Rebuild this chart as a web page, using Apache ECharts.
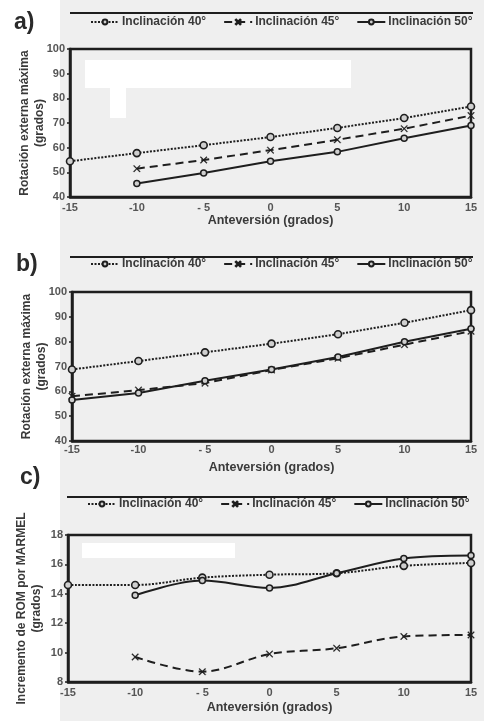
<!DOCTYPE html>
<html><head><meta charset="utf-8">
<script src="https://cdn.jsdelivr.net/npm/echarts@6/dist/echarts.min.js"></script>
<style>html,body{margin:0;padding:0;background:#fff}#c{width:484px;height:721px}</style>
</head><body><div id="c"></div>
<script>
const xCats = [-15, -10, -5, 0, 5, 10, 15];
const seriesNames = ['Inclinación 40°', 'Inclinación 45°', 'Inclinación 50°'];
// Panel a: Rotación externa máxima
const a40 = [54.5, 57.8, 61.0, 64.3, 68.0, 72.0, 76.7];
const a45 = [null, 51.5, 55.0, 59.0, 63.2, 67.7, 73.0];
const a50 = [null, 45.5, 49.7, 54.5, 58.3, 63.8, 69.0];
// Panel b: Rotación externa máxima
const b40 = [68.8, 72.2, 75.7, 79.2, 83.0, 87.6, 92.7];
const b45 = [58.0, 60.5, 63.3, 68.6, 73.3, 78.8, 84.2];
const b50 = [56.5, 59.3, 64.3, 68.8, 73.8, 80.0, 85.2];
// Panel c: Incremento de ROM por MARMEL
const c40 = [14.6, 14.6, 15.1, 15.3, 15.4, 15.9, 16.1];
const c45 = [null, 9.7, 8.7, 9.9, 10.3, 11.1, 11.2];
const c50 = [null, 13.9, 14.9, 14.4, 15.4, 16.4, 16.6];

const crossPath = 'path://M0,1L1,0L5,4L9,0L10,1L6,5L10,9L9,10L5,6L1,10L0,9L4,5Z';
const ink = '#1e1e1e';
const txt = '#3a3a3a';
const font = 'Liberation Sans';

const grids = [
  {left: 70, top: 49, width: 401, height: 148},
  {left: 72, top: 292, width: 399, height: 149},
  {left: 68, top: 535, width: 403, height: 147}
];
const yCfg = [
  {min: 40, max: 100, interval: 10, name: 'Rotación externa máxima\n(grados)'},
  {min: 40, max: 100, interval: 10, name: 'Rotación externa máxima\n(grados)'},
  {min: 8, max: 18, interval: 2, name: 'Incremento de ROM por MARMEL\n(grados)'}
];
const legendTops = [16, 258, 498];
const lineYs = [13, 257, 497];
const titles = [
  {text: 'a)', left: 14, top: 11},
  {text: 'b)', left: 16, top: 253},
  {text: 'c)', left: 20, top: 466}
];
const xNameGaps = [17, 20, 19];
const panels = [[a40, a45, a50], [b40, b45, b50], [c40, c45, c50]];

function pairs(arr) {
  const out = [];
  arr.forEach((v, i) => { if (v !== null) out.push([xCats[i], v]); });
  return out;
}

const series = [];
panels.forEach((p, gi) => {
  const smooth = gi === 2 ? 0.35 : false;
  series.push({
    name: seriesNames[0], type: 'line', xAxisIndex: gi, yAxisIndex: gi, data: pairs(p[0]),
    smooth: smooth, symbol: 'circle', symbolSize: 7,
    itemStyle: {color: '#cfcfcf', borderColor: ink, borderWidth: 1.6},
    lineStyle: {color: ink, width: 2, type: [2, 1.5]}
  });
  series.push({
    name: seriesNames[1], type: 'line', xAxisIndex: gi, yAxisIndex: gi, data: pairs(p[1]),
    smooth: smooth, symbol: crossPath, symbolSize: 7,
    itemStyle: {color: ink, borderColor: ink, borderWidth: 0.3},
    lineStyle: {color: ink, width: 2, type: [8, 5]}
  });
  series.push({
    name: seriesNames[2], type: 'line', xAxisIndex: gi, yAxisIndex: gi, data: pairs(p[2]),
    smooth: smooth, symbol: 'circle', symbolSize: 6,
    itemStyle: {color: '#cfcfcf', borderColor: ink, borderWidth: 1.5},
    lineStyle: {color: ink, width: 2, type: 'solid'}
  });
});

const graphic = [
  {type: 'rect', silent: true, z: -10, shape: {x: 60, y: 0, width: 424, height: 721}, style: {fill: '#efefef'}},
  {type: 'rect', silent: true, z: -5, shape: {x: 85, y: 60, width: 266, height: 28}, style: {fill: '#ffffff'}},
  {type: 'rect', silent: true, z: -5, shape: {x: 110, y: 86, width: 16, height: 32}, style: {fill: '#ffffff'}},
  {type: 'rect', silent: true, z: -5, shape: {x: 82, y: 543, width: 153, height: 15}, style: {fill: '#ffffff'}}
];
lineYs.forEach((y, i) => {
  const x1 = i === 2 ? 67 : 70, x2 = i === 2 ? 467 : 473;
  graphic.push({type: 'line', silent: true, shape: {x1: x1, y1: y, x2: x2, y2: y}, style: {stroke: ink, lineWidth: 2}});
});

const option = {
  backgroundColor: '#ffffff',
  animation: false,
  textStyle: {fontFamily: font},
  title: titles.map(t => ({text: t.text, left: t.left, top: t.top, padding: 0,
    textStyle: {fontFamily: font, fontSize: 23, fontWeight: 'bold', color: '#2a2a2a'}})),
  legend: legendTops.map((t, i) => ({
    top: t, left: i === 2 ? 87 : 90, padding: 0, itemWidth: 28, itemHeight: 6, itemGap: 17,
    data: seriesNames,
    textStyle: {fontFamily: font, fontSize: 12, fontWeight: 'bold', color: txt, padding: [0, 0, 0, -2]}
  })),
  grid: grids.map(g => Object.assign({show: true, borderColor: ink, borderWidth: 2.5, backgroundColor: 'transparent'}, g)),
  xAxis: grids.map((g, i) => ({
    type: 'value', gridIndex: i, min: -15, max: 15, interval: 5,
    name: 'Anteversión (grados)', nameLocation: 'middle', nameGap: xNameGaps[i],
    nameMoveOverlap: false,
    nameTextStyle: {fontFamily: font, fontSize: 12.5, fontWeight: 'bold', color: txt},
    axisLine: {show: true, onZero: false, lineStyle: {color: ink, width: 2.5}},
    axisTick: {show: false},
    axisLabel: {fontFamily: font, fontSize: 11, fontWeight: 'bold', color: '#555', margin: i === 1 ? 3 : 5,
      formatter: v => (v === -5 ? '- 5' : String(v))},
    splitLine: {show: false}
  })),
  yAxis: yCfg.map((c, i) => ({
    type: 'value', gridIndex: i, min: c.min, max: c.max, interval: c.interval,
    name: c.name, nameLocation: 'middle', nameGap: i === 2 ? 24 : 23,
    nameMoveOverlap: false,
    nameTextStyle: {fontFamily: font, fontSize: 12, fontWeight: 'bold', color: txt, lineHeight: 15},
    axisLine: {show: true, onZero: false, lineStyle: {color: ink, width: 2.5}},
    axisTick: {show: true, length: 3, lineStyle: {color: ink, width: 1.5}},
    axisLabel: {fontFamily: font, fontSize: 11, fontWeight: 'bold', color: '#555', margin: 5},
    splitLine: {show: false}
  })),
  graphic: graphic,
  series: series
};
const chart = echarts.init(document.getElementById('c'));
chart.setOption(option);
</script></body></html>
